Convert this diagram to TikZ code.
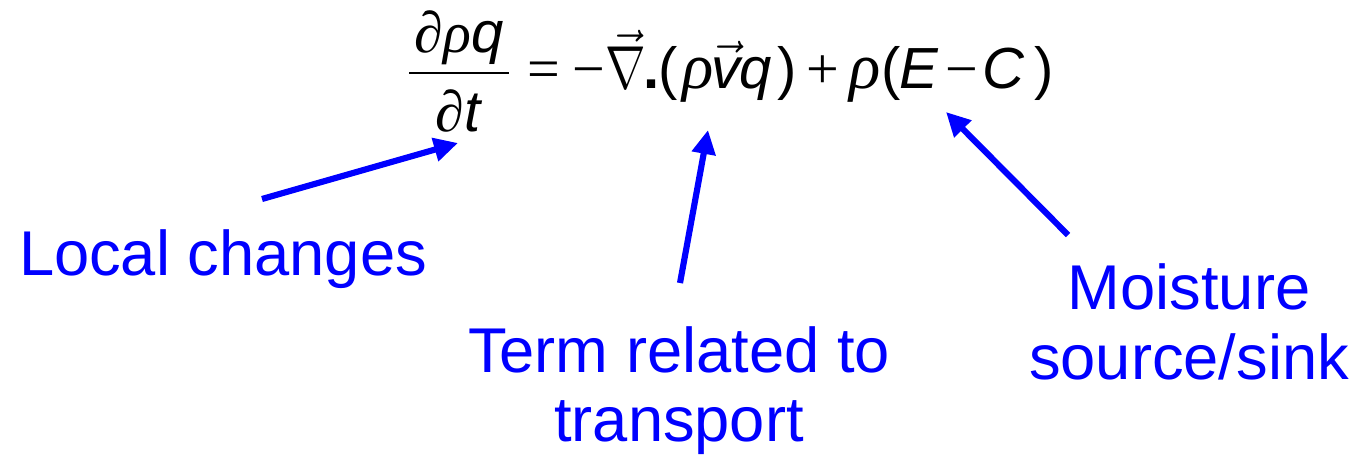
\documentclass[tikz,border=0pt]{standalone}
\usepackage{fontspec}
\usepackage{graphicx}
\setmainfont{Liberation Sans}
\newfontfamily\symf{Liberation Serif}
\usetikzlibrary{arrows.meta}
\definecolor{lblue}{RGB}{0,0,255}
\newlength{\pxu}
\setlength{\pxu}{0.01cm}
\newcommand{\pdx}{{\symf\itshape ∂}}
\newcommand{\rhx}{{\symf\itshape ρ}}
\newcommand{\rhbig}{{\symf\itshape\fontsize{18.5}{20}\selectfont ρ}}
\newcommand{\opx}[1]{{\symf #1}}
\newcommand{\gl}[2]{\rlap{\hspace*{#1\pxu}#2}}
\newcommand{\nab}{\scalebox{0.8}[1]{$\nabla$}}
\tikzset{
  lbl/.style={text=lblue, font=\fontsize{18}{20}\selectfont, inner sep=0pt, anchor=base},
  eq/.style={text=black, font=\fontsize{16.5}{18}\selectfont, inner sep=0pt, anchor=base},
  pointer/.style={draw=lblue, line width=1.75pt, -{Triangle[length=0.24cm, width=0.23cm]}}
}
\begin{document}
\begin{tikzpicture}
\useasboundingbox (0,0) rectangle (13.58,4.59);
% equation
\node[eq] (num) at (4.59,4.06) {\pdx\rhx\textit{q}};
\node[eq] (den) at (4.59,3.27) {\pdx\textit{t}};
\coordinate (barL) at (4.09,3.86);
\coordinate (barR) at (5.09,3.86);
\draw[line width=0.75pt] (barL) -- (barR);
\node[eq, anchor=base west] (rhs) at (5.27,3.70) {%
\gl{0}{\opx{=}}%
\gl{45}{\opx{−}}%
\gl{78}{$\vec{\hbox{\nab}}$}%
\gl{116}{\textbf{.}}%
\gl{131}{(}%
\gl{155}{\rhbig}%
\gl{184}{$\vec{\hbox{\itshape v}}$}%
\gl{212}{\textit{q}}%
\gl{250}{)}%
\gl{279}{\opx{+}}%
\gl{322}{\rhbig}%
\gl{354}{(}%
\gl{372}{\textit{E}}%
\gl{418}{\opx{−}}%
\gl{455}{\textit{C}}%
\gl{507}{)}%
\hspace*{524\pxu}};
% labels
\node[lbl] (local) at (2.23,1.83) {Local changes};
\node[lbl] (term1) at (6.79,0.87) {Term related to};
\node[lbl] (term2) at (6.79,0.18) {transport};
\node[lbl] (moist1) at (11.89,1.50) {Moisture};
\node[lbl] (moist2) at (11.89,0.80) {source/sink};
% arrows
\coordinate (a1s) at (2.62,2.60);
\coordinate (a1e) at (4.58,3.16);
\coordinate (a2s) at (6.80,1.76);
\coordinate (a2e) at (7.08,3.29);
\coordinate (a3s) at (10.68,2.24);
\coordinate (a3e) at (9.46,3.47);
\draw[pointer] (a1s) -- (a1e);
\draw[pointer] (a2s) -- (a2e);
\draw[pointer] (a3s) -- (a3e);
\end{tikzpicture}
\end{document}
